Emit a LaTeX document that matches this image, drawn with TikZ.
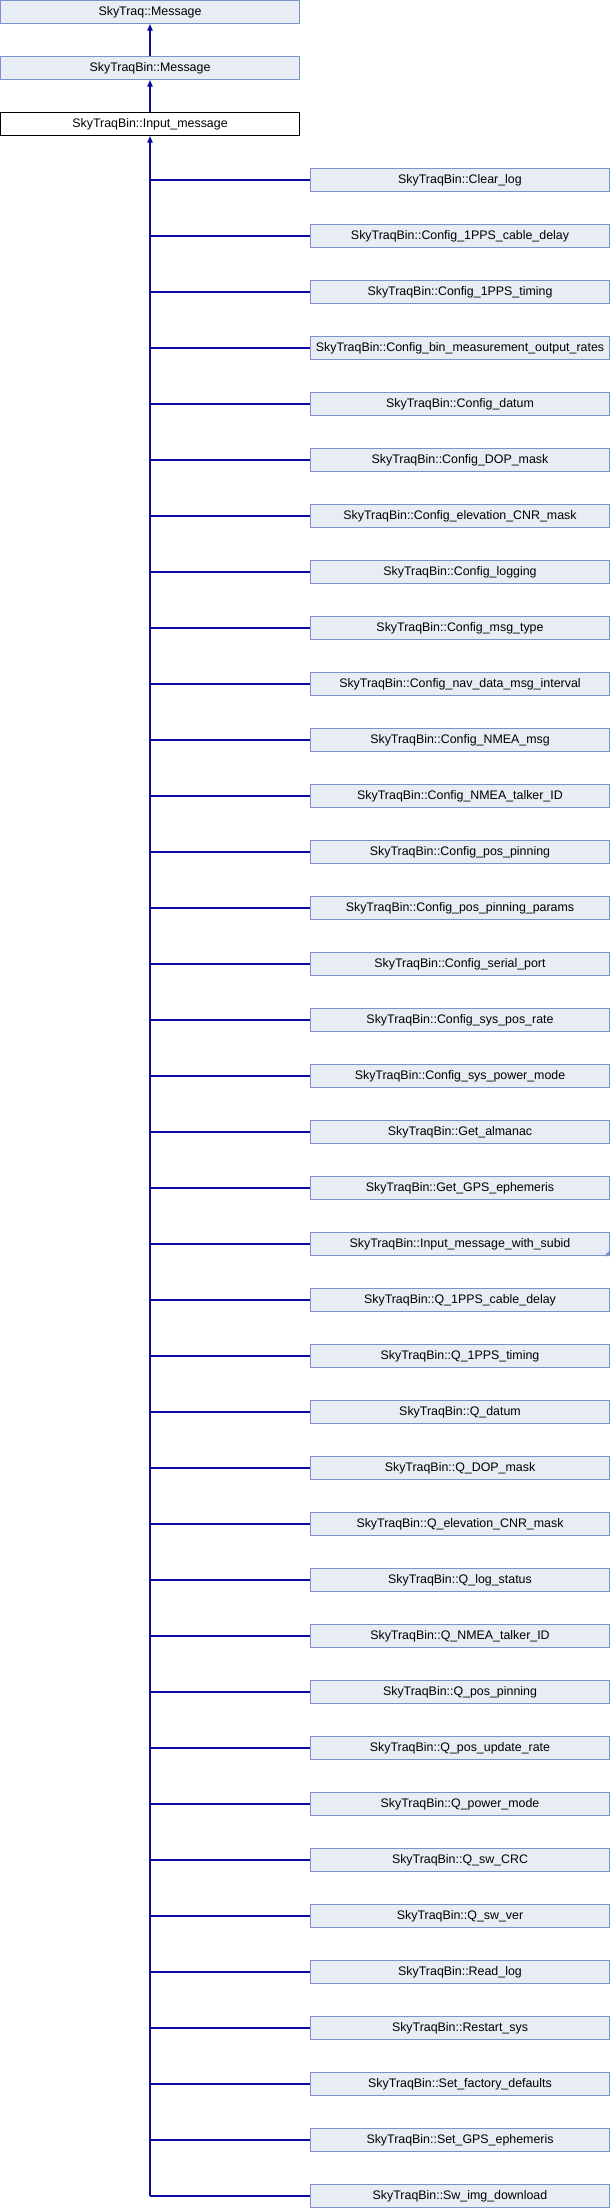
\documentclass[tikz,border=0pt]{standalone}
\usepackage{fontspec}
\setmainfont{Liberation Sans}
\usetikzlibrary{arrows.meta}

\definecolor{boxfill}{RGB}{232,236,244}
\definecolor{boxline}{RGB}{124,146,204}
\definecolor{edgeblue}{RGB}{10,10,160}

\tikzset{every picture/.style={line width=0.75pt}}
\tikzset{
  classbox/.style={draw=boxline, fill=boxfill, minimum width=224.25pt, minimum height=17.25pt, inner sep=0pt, font=\fontsize{9.3}{11}\selectfont},
  mainbox/.style={classbox, draw=black, fill=white},
  edge/.style={draw=edgeblue, line width=1.1pt},
  inherit/.style={edge, -{Triangle[length=5pt,width=4pt]}}
}

\begin{document}
\begin{tikzpicture}[x=0.75pt,y=0.75pt,yscale=-1,xscale=1]
\useasboundingbox (0,0) rectangle (610,2208);

% base classes
\node [classbox] (skymsg) at (150,12) {SkyTraq::Message};
\node [classbox] (binmsg) at (150,68) {SkyTraqBin::Message};
\node [mainbox] (input) at (150,124) {SkyTraqBin::Input\_message};

\draw [inherit] (binmsg) -- (skymsg);
\draw [inherit] (input) -- (binmsg);

% derived classes
\foreach \cls [count=\i from 0] in {Clear\_log, Config\_1PPS\_cable\_delay, Config\_1PPS\_timing,
    Config\_bin\_measurement\_output\_rates, Config\_datum, Config\_DOP\_mask,
    Config\_elevation\_CNR\_mask, Config\_logging, Config\_msg\_type,
    Config\_nav\_data\_msg\_interval, Config\_NMEA\_msg, Config\_NMEA\_talker\_ID,
    Config\_pos\_pinning, Config\_pos\_pinning\_params, Config\_serial\_port,
    Config\_sys\_pos\_rate, Config\_sys\_power\_mode, Get\_almanac, Get\_GPS\_ephemeris,
    Input\_message\_with\_subid, Q\_1PPS\_cable\_delay, Q\_1PPS\_timing, Q\_datum,
    Q\_DOP\_mask, Q\_elevation\_CNR\_mask, Q\_log\_status, Q\_NMEA\_talker\_ID,
    Q\_pos\_pinning, Q\_pos\_update\_rate, Q\_power\_mode, Q\_sw\_CRC, Q\_sw\_ver,
    Read\_log, Restart\_sys, Set\_factory\_defaults, Set\_GPS\_ephemeris,
    Sw\_img\_download}
{
  \node [classbox] (child\i) at (460,180+56*\i) {SkyTraqBin::\cls};
  \draw [edge] (input.south |- child\i.west) -- (child\i.west);
}

% trunk
\coordinate (trunkend) at (input.south |- child36.west);
\draw [inherit] (trunkend) -- (input.south);

% mark for class with further children
\fill [boxline] (child19.south east) -- ++(-6,0) -- ++(6,-6) -- cycle;

\end{tikzpicture}
\end{document}
